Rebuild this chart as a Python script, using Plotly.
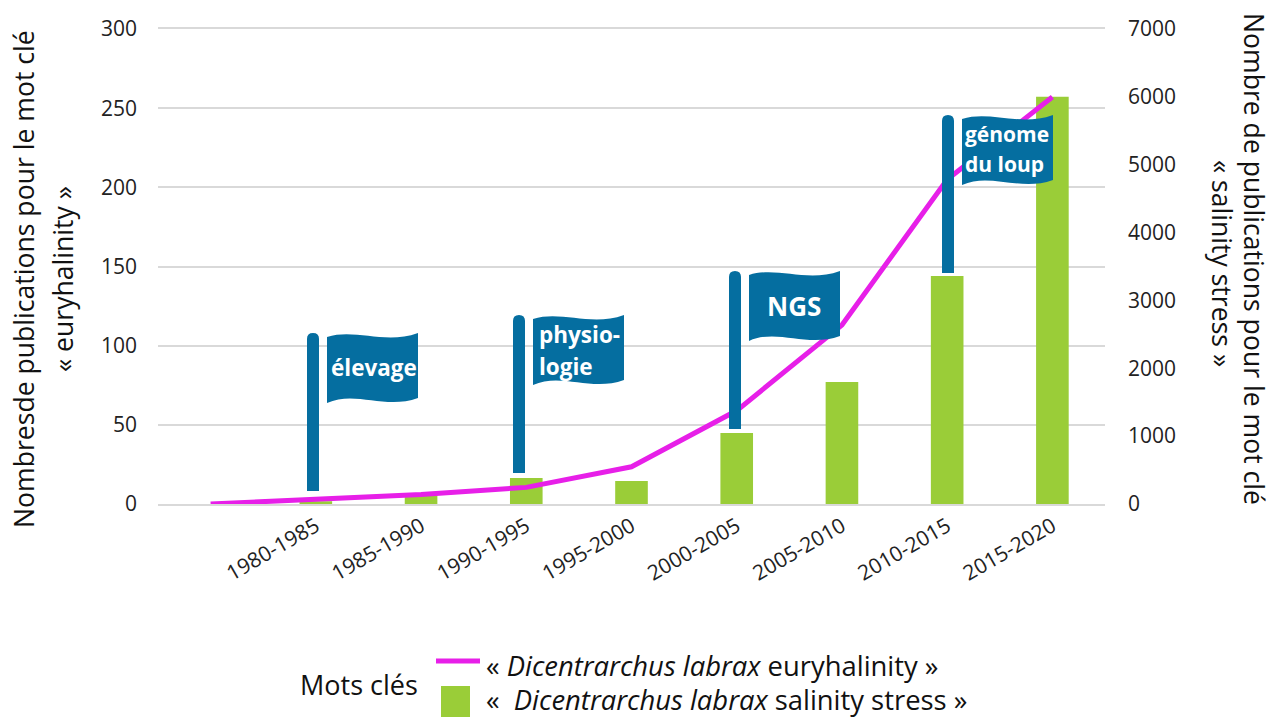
import plotly.graph_objects as go

periods = [" ", "1980-1985", "1985-1990", "1990-1995", "1995-2000",
           "2000-2005", "2005-2010", "2010-2015", "2015-2020"]
euryhalinity = [0, 3, 6, 10.5, 23.5, 59, 113, 205, 257]
salinity_stress = [None, 40, 130, 383, 339, 1046, 1798, 3360, 6000]

flag_lines = [["élevage"], ["physio-", "logie"], ["NGS"], ["génome", "du loup"]]
flag_left = [307, 513, 729, 942]
flag_top = [333, 315, 271, 115]
flag_text_x = [331, 539, 767, 965]
flag_text_y = [[367], [334, 366], [306], [134, 164]]
flag_font = [22.5, 22.5, 26, 21]

W, H = 1274, 719
L, R, T, B = 158, 1105, 29, 504
FONT = "Open Sans"
BLUE = "#056ea0"
GRID = "#d9d9d9"


def px(x):
    return (x - L) / (R - L)


def py(y):
    return (B - y) / (B - T)


def path(cmds):
    out = []
    for c in cmds:
        out.append(c[0] + " ".join(f"{px(c[i]):.5f},{py(c[i + 1]):.5f}" for i in range(1, len(c), 2)))
    return " ".join(out) + " Z"


fig = go.Figure()
fig.add_bar(x=periods, y=salinity_stress, yaxis="y", marker_color="#9acd38",
            marker_line_width=0, showlegend=False, hoverinfo="x+y")
fig.add_scatter(x=periods, y=euryhalinity, yaxis="y2", mode="lines",
                line=dict(color="#e71fe8", width=5), showlegend=False)

shapes, annotations = [], []
for lines, x0, y0, tx, tys, size in zip(flag_lines, flag_left, flag_top, flag_text_x, flag_text_y, flag_font):
    x1 = x0 + 12
    shapes.append(dict(type="path", xref="paper", yref="paper", fillcolor=BLUE, line_width=0,
                       path=path([("M", x0, y0 + 158), ("L", x0, y0 + 6), ("Q", x0, y0, x0 + 6, y0),
                                  ("Q", x1, y0, x1, y0 + 6), ("L", x1, y0 + 158)])))
    fx = x0 + 20
    shapes.append(dict(type="path", xref="paper", yref="paper", fillcolor=BLUE, line_width=0,
                       path=path([("M", fx, y0 + 4),
                                  ("C", fx + 28, y0 - 5, fx + 58, y0 + 12, fx + 91, y0),
                                  ("L", fx + 91, y0 + 65),
                                  ("C", fx + 58, y0 + 77, fx + 28, y0 + 57, fx, y0 + 70)])))
    for line, ty in zip(lines, tys):
        annotations.append(dict(xref="paper", yref="paper", x=px(tx - 2), y=py(ty), text=f"<b>{line}</b>",
                                showarrow=False, xanchor="left", yanchor="middle",
                                font=dict(family=FONT, size=size, color="white")))


def note(text, x, y, size, angle=0, anchor="left"):
    annotations.append(dict(xref="paper", yref="paper", x=px(x), y=py(y), text=text, showarrow=False,
                            xanchor=anchor, yanchor="middle", textangle=angle,
                            font=dict(family=FONT, size=size, color="#111111")))


note("Nombresde publications pour le mot clé", 24, 279, 26.6, -90, "center")
note("« euryhalinity »", 63, 279, 26.6, -90, "center")
note("Nombre de publications pour le mot clé", 1254, 259, 26.6, 90, "center")
note("« salinity stress »", 1222, 263, 26.6, 90, "center")
note("Mots clés", 298, 684, 27)
note("« <i>Dicentrarchus labrax</i> euryhalinity »", 484, 665, 27.4)
note("«  <i>Dicentrarchus labrax</i> salinity stress »", 484, 699, 27.4)

shapes.append(dict(type="line", xref="paper", yref="paper", x0=px(436), x1=px(480), y0=py(661), y1=py(661),
                   line=dict(color="#e71fe8", width=5)))
shapes.append(dict(type="rect", xref="paper", yref="paper", x0=px(441), x1=px(470), y0=py(686), y1=py(717),
                   fillcolor="#9acd38", line_width=0))

tick_font = dict(family=FONT, size=21, color="#222222")
fig.update_layout(
    width=W, height=H, autosize=False, template=None,
    paper_bgcolor="white", plot_bgcolor="white",
    margin=dict(l=L, r=W - R, t=T, b=H - B, pad=0),
    bargap=0.69, shapes=shapes, annotations=annotations,
    xaxis=dict(type="category", categoryorder="array", categoryarray=periods, tickangle=-30,
               tickfont=tick_font, showgrid=False, showline=True, mirror=True, linecolor=GRID,
               linewidth=2, ticks="", zeroline=False),
    yaxis=dict(side="right", range=[0, 7000], dtick=1000, tickfont=tick_font, showgrid=False,
               zeroline=False, showline=False, ticks="", ticklabelstandoff=22),
    yaxis2=dict(side="left", overlaying="y", range=[0, 300], dtick=50, tickfont=tick_font,
                showgrid=True, gridcolor=GRID, gridwidth=2, zeroline=False, showline=False,
                ticks="", ticklabelstandoff=20),
)
fig.write_html("out.html", post_script="document.body.style.margin='0';document.body.style.overflow='hidden';",
               config={"displayModeBar": False})
